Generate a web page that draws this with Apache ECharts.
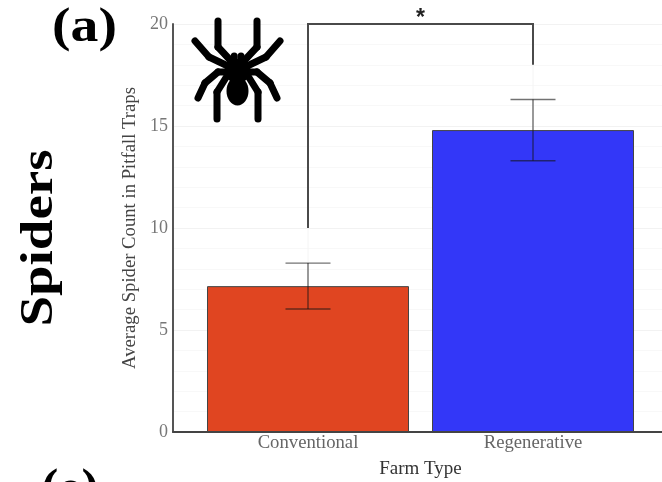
<!DOCTYPE html>
<html><head><meta charset="utf-8">
<style>html,body{margin:0;padding:0;background:#fff;overflow:hidden}#c{width:662px;height:482px}</style>
<script src="https://cdn.jsdelivr.net/npm/echarts@6/dist/echarts.min.js"></script>
</head><body><div id="c"></div>
<script>
const categories = ['Conventional', 'Regenerative'];
const positions = [1, 2];
const means = [7.15, 14.8];
const errLow = [6.03, 13.3];
const errHigh = [8.28, 16.3];
const barColors = ['#E04521', '#3337F8'];
const yTicks = [0, 5, 10, 15, 20];
const bracketLow = [10, 18];
const bracketTop = 20;
const sigLabel = '*';
const SERIF = '"Liberation Serif", serif';

const chart = echarts.init(document.getElementById('c'), null, {renderer: 'canvas'});

function leg(points) {
  const segs = [];
  for (let i = 1; i < points.length; i++) {
    segs.push({type: 'line', z: 10,
      shape: {x1: points[i-1][0], y1: points[i-1][1], x2: points[i][0], y2: points[i][1]},
      style: {stroke: '#000', lineWidth: 7, lineCap: 'round'}});
  }
  return segs;
}
const spider = [
  ...leg([[218,21],[218,47],[232,62]]), ...leg([[257,21],[257,47],[243,62]]),
  ...leg([[195,41],[209,57],[232,68]]), ...leg([[280,41],[266,57],[243,68]]),
  ...leg([[198,98],[205,83],[218,72],[232,72]]), ...leg([[277,98],[270,83],[257,72],[243,72]]),
  ...leg([[217,119],[217,92],[227,76]]), ...leg([[258,119],[258,92],[248,76]]),
  ...leg([[234.2,56],[234.2,62]]), ...leg([[241,56],[241,62]]),
  {type: 'ellipse', shape: {cx: 237.5, cy: 91, rx: 11, ry: 14.5}, style: {fill: '#000'}, z: 11},
  {type: 'ellipse', shape: {cx: 237.5, cy: 71, rx: 13, ry: 12}, style: {fill: '#000'}, z: 11}
];

chart.setOption({
  animation: false,
  backgroundColor: '#fff',
  grid: {left: 173, top: 24, width: 495, height: 408, outerBoundsMode: 'none'},
  xAxis: {
    type: 'value', min: 0.4, max: 2.6,
    name: 'Farm Type', nameLocation: 'middle', nameGap: 28,
    nameTextStyle: {fontFamily: SERIF, fontSize: 19, color: '#333'},
    axisLine: {show: true, onZero: false, lineStyle: {color: '#444', width: 2}},
    axisTick: {show: false},
    splitLine: {show: false},
    axisLabel: {customValues: positions, margin: 2, fontFamily: SERIF, fontSize: 18.7, color: '#666',
      formatter: v => categories[positions.indexOf(v)] || ''}
  },
  yAxis: {
    type: 'value', min: 0, max: 20, interval: 5,
    name: 'Average Spider Count in Pitfall Traps', nameLocation: 'middle', nameGap: 33,
    nameTextStyle: {fontFamily: SERIF, fontSize: 18.7, color: '#444'},
    axisLine: {show: true, lineStyle: {color: '#555', width: 2}},
    axisTick: {show: false},
    axisLabel: {margin: 5, fontFamily: SERIF, fontSize: 18, color: '#777',
      formatter: v => yTicks.includes(v) ? String(v) : ''},
    splitLine: {show: true, lineStyle: {color: '#f2f2f2', width: 1}},
    minorTick: {show: false, splitNumber: 5},
    minorSplitLine: {show: true, lineStyle: {color: '#f8f8f8', width: 1}}
  },
  series: [
    {
      type: 'line', silent: true, symbol: 'none', z: 1,
      lineStyle: {color: '#f4f4f4', width: 1},
      data: [[positions[0], 0], [positions[0], 20], null, [positions[1], 20], [positions[1], 0]],
      connectNulls: false
    },
    {
      type: 'bar', barWidth: 202, z: 2,
      data: positions.map((p, i) => ({
        value: [p, means[i]],
        itemStyle: {color: barColors[i], borderColor: '#444', borderWidth: 1}
      }))
    },
    {
      type: 'custom', z: 3, silent: true,
      encode: {x: 0, y: [1, 2]},
      data: positions.map((p, i) => [p, errLow[i], errHigh[i]]),
      renderItem(params, api) {
        const x = api.value(0), lo = api.coord([x, api.value(1)]), hi = api.coord([x, api.value(2)]);
        const style = {stroke: 'rgba(20,20,20,0.6)', lineWidth: 1.4, fill: null};
        const cap = 22.5;
        return {type: 'group', children: [
          {type: 'line', shape: {x1: lo[0], y1: lo[1], x2: hi[0], y2: hi[1]}, style},
          {type: 'line', shape: {x1: lo[0] - cap, y1: lo[1], x2: lo[0] + cap, y2: lo[1]}, style},
          {type: 'line', shape: {x1: hi[0] - cap, y1: hi[1], x2: hi[0] + cap, y2: hi[1]}, style}
        ]};
      }
    },
    {
      type: 'custom', z: 4, silent: true, clip: false,
      data: [[positions[0], positions[1], bracketLow[0], bracketLow[1], bracketTop]],
      encode: {x: [0, 1], y: [2, 3, 4]},
      renderItem(params, api) {
        const x1 = api.value(0), x2 = api.value(1), top = api.value(4);
        const a = api.coord([x1, api.value(2)]), b = api.coord([x1, top]);
        const c = api.coord([x2, top]), d = api.coord([x2, api.value(3)]);
        const mid = api.coord([(x1 + x2) / 2, top]);
        return {type: 'group', children: [
          {type: 'polyline', shape: {points: [a, b, c, d]}, style: {stroke: '#4a4a4a', lineWidth: 2, fill: null}},
          {type: 'text', style: {text: sigLabel, x: mid[0], y: mid[1] - 17, align: 'center', verticalAlign: 'top',
            font: 'bold 23px "Liberation Sans", sans-serif', fill: '#222'}}
        ]};
      }
    }
  ],
  graphic: [
    {type: 'text', x: 52, y: 5, scaleX: 1.16, style: {text: '(a)', font: 'bold 48px ' + SERIF, fill: '#000', verticalAlign: 'top'}},
    {type: 'text', x: 39.5, y: 238, rotation: Math.PI / 2, scaleX: 1.17,
      style: {text: 'Spiders', font: 'bold 47px ' + SERIF, fill: '#000', align: 'center', verticalAlign: 'middle'}},
    {type: 'text', x: 41, y: 466, style: {text: '(e)', font: 'bold 52px ' + SERIF, fill: '#000', verticalAlign: 'top'}},
    {type: 'group', children: spider}
  ]
});
</script></body></html>
